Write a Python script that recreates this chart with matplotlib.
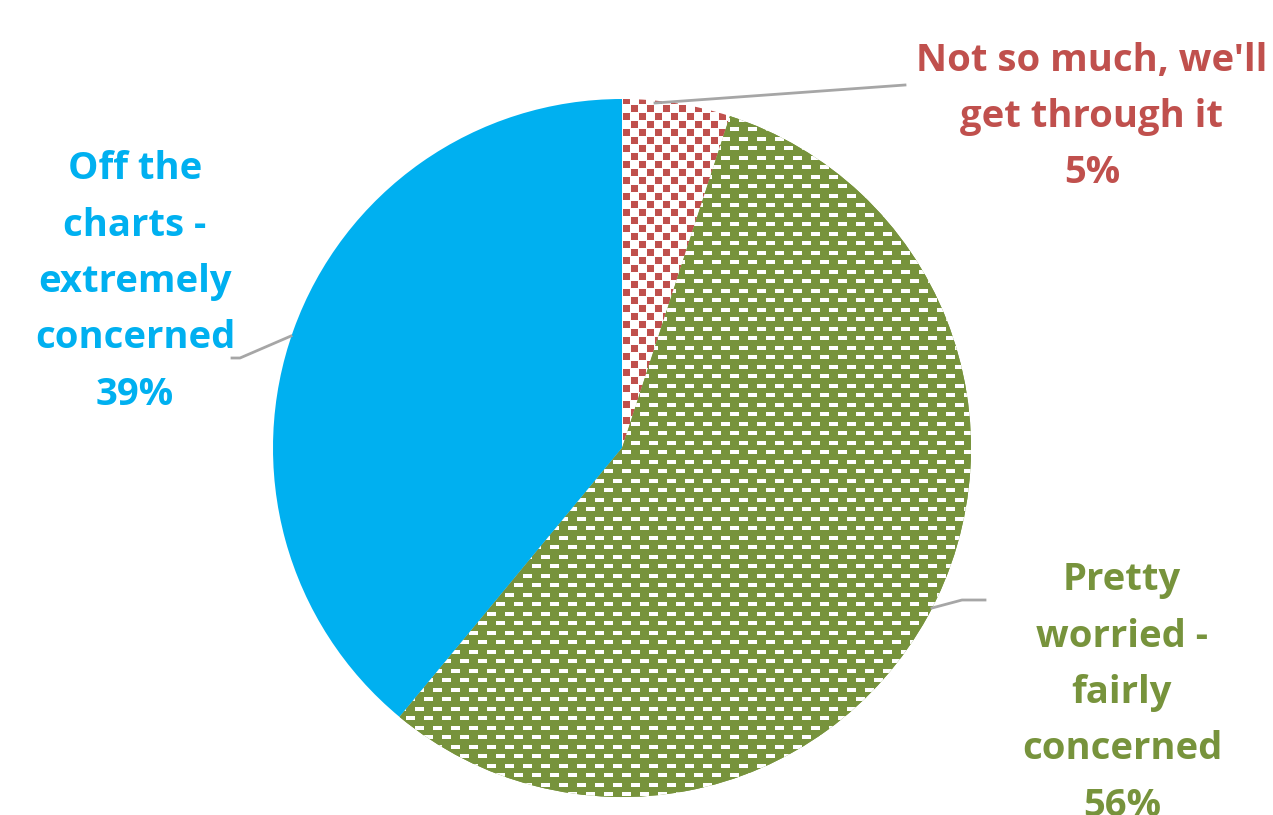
import numpy as np
import matplotlib
matplotlib.use("Agg")
import matplotlib.pyplot as plt

labels = ["Not so much, we'll\nget through it", "Pretty\nworried -\nfairly\nconcerned", "Off the\ncharts -\nextremely\nconcerned"]
values = [5, 56, 39]
pcts = ["5%", "56%", "39%"]
colors = ["#C0504D", "#77933C", "#00B0F0"]

W, H = 1273, 815
fig = plt.figure(figsize=(W / 100, H / 100), dpi=100)
ax = fig.add_axes([0, 0, 1, 1])
ax.set_xlim(0, W)
ax.set_ylim(0, H)
ax.axis("off")

cx, cy, R = 622, H - 448, 349
wedges, _ = ax.pie(values, startangle=90, counterclock=False, center=(cx, cy),
                   radius=R, colors=["white", colors[1], colors[2]],
                   wedgeprops=dict(linewidth=0), frame=False)
ax.set_xlim(0, W)
ax.set_ylim(0, H)
ax.set_aspect("auto")

def to_rgb(h):
    h = h.lstrip("#")
    return np.array([int(h[i:i + 2], 16) / 255 for i in (0, 2, 4)])

# red checker pattern
cell = 8
tile_r = np.ones((2 * cell, 2 * cell, 3))
red = to_rgb(colors[0])
tile_r[0:cell - 1, 0:cell - 1] = red
tile_r[cell:2 * cell - 1, cell:2 * cell - 1] = red

# green brick dash pattern
tile_g = np.tile(to_rgb(colors[1]), (19, 18, 1))
tile_g[2:6, 0:9] = 1.0
tile_g[11:15, 9:18] = 1.0

def pattern_fill(tile, wedge):
    x0, x1 = cx - R - 2, cx + R + 2
    y0, y1 = cy - R - 2, cy + R + 2
    nh = int(y1 - y0)
    nw = int(x1 - x0)
    reps = (nh // tile.shape[0] + 1, nw // tile.shape[1] + 1, 1)
    img = np.tile(tile, reps)[:nh, :nw]
    im = ax.imshow(img, extent=(x0, x0 + nw, y0, y0 + nh), origin="upper",
                   interpolation="nearest", zorder=2)
    im.set_clip_path(wedge)

pattern_fill(tile_r, wedges[0])
pattern_fill(tile_g, wedges[1])
ax.set_xlim(0, W)
ax.set_ylim(0, H)

font = "Open Sans"
fs = 27.5
ls = 1.63
# leader lines
gray = "#A6A6A6"
ax.plot([655, 905], [H - 103, H - 85], color=gray, lw=2, zorder=3)
ax.plot([291, 240, 232], [H - 336, H - 358, H - 358], color=gray, lw=2, zorder=3)
ax.plot([932, 962, 985], [H - 608, H - 600, H - 600], color=gray, lw=2, zorder=3)

ax.text(1092, H - 117, labels[0] + "\n" + pcts[0], ha="center", va="center",
        color=colors[0], fontsize=fs, fontweight="bold", family=font, linespacing=ls, zorder=4)
ax.text(135, H - 282, labels[2] + "\n" + pcts[2], ha="center", va="center",
        color=colors[2], fontsize=fs, fontweight="bold", family=font, linespacing=ls, zorder=4)
ax.text(1122, H - 693, labels[1] + "\n" + pcts[1], ha="center", va="center",
        color=colors[1], fontsize=fs, fontweight="bold", family=font, linespacing=ls, zorder=4)

fig.savefig("out.png", dpi=100)
